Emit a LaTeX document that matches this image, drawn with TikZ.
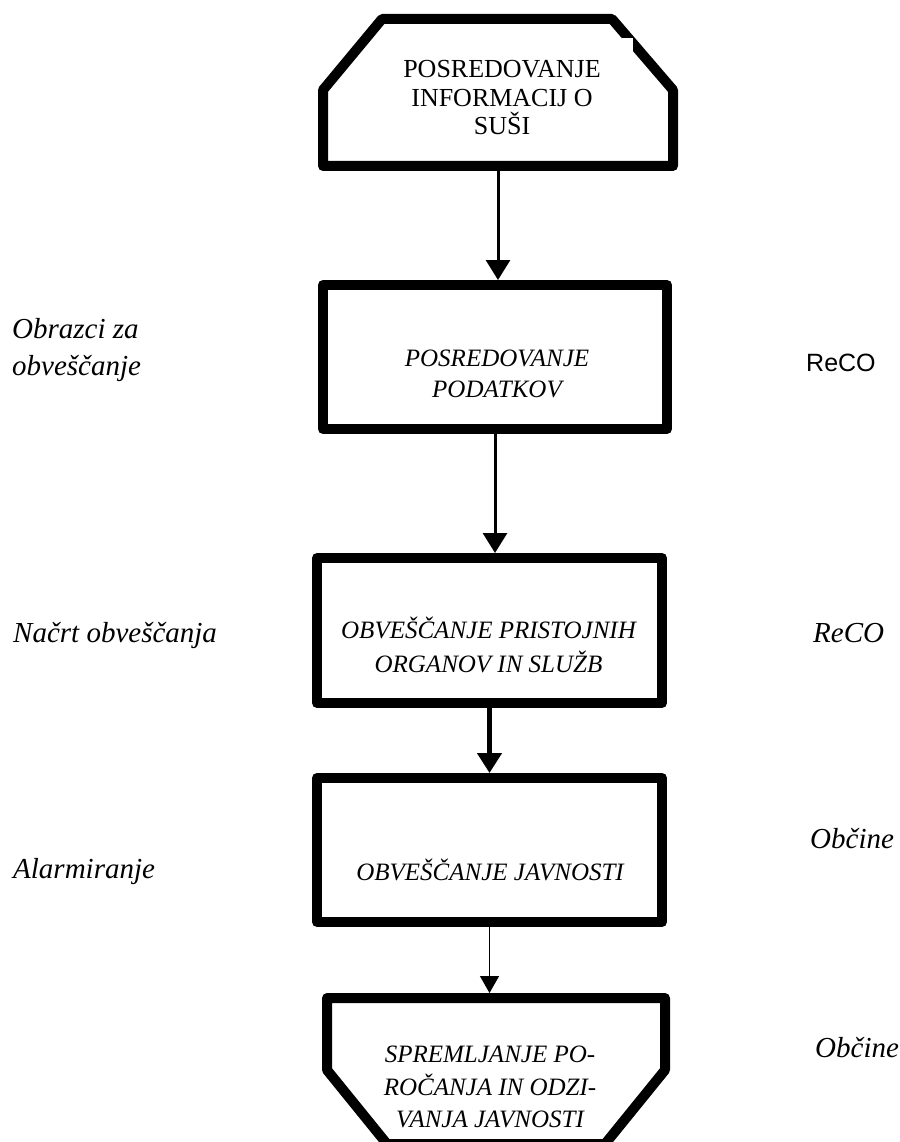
\documentclass[tikz,border=0pt]{standalone}
\usepackage{fontspec}
\setmainfont{Liberation Serif}
\setsansfont{Liberation Sans}
\usetikzlibrary{arrows.meta}
\begin{document}
\begin{tikzpicture}[x=1pt,y=-1pt,line join=round,line cap=round,
>={Triangle[width=24pt,length=20pt]},
frame/.style={draw,rectangle,line width=10pt,inner sep=0pt},
outline/.style={line width=10pt},
shapebox/.style={rectangle,inner sep=0pt,outer sep=0pt},
boxtxt/.style={align=center,inner sep=0pt,font=\fontsize{25}{31}\selectfont\itshape},
side/.style={inner sep=0pt,anchor=base west,font=\fontsize{29}{37}\selectfont\itshape}]
\useasboundingbox (0,0) rectangle (899,1142);
% frames
\node[shapebox,minimum width=350pt,minimum height=147pt] (info) at (498,92.5) {};
\draw[outline] ([yshift=-71pt]info.north west)--([xshift=59pt]info.north west)--([xshift=-61pt]info.north east)--([yshift=-71pt]info.north east)--(info.south east)--(info.south west)--cycle;
\fill[white] (622,38) rectangle (633,55);
\node[frame,minimum width=344pt,minimum height=144pt] (podatki) at (495,357) {};
\node[frame,minimum width=345pt,minimum height=145pt] (organi) at (489.5,630.5) {};
\node[frame,minimum width=345pt,minimum height=144pt] (javnost) at (489.5,850) {};
\node[shapebox,minimum width=338pt,minimum height=146pt] (spremljanje) at (496,1071) {};
\draw[outline] (spremljanje.north west)--(spremljanje.north east)--([yshift=74pt]spremljanje.south east)--([xshift=-60pt]spremljanje.south east)--([xshift=60pt]spremljanje.south west)--([yshift=74pt]spremljanje.south west)--cycle;
% texts in frames
\node[boxtxt,font=\fontsize{26}{28.5}\selectfont] (infotxt) at (502,98) {POSREDOVANJE\\INFORMACIJ O\\SUŠI};
\node[boxtxt] (podtxt) at (497,374.3) {POSREDOVANJE\\PODATKOV};
\node[boxtxt,font=\fontsize{25}{34}\selectfont\itshape] (orgtxt) at (488.5,644.5) {OBVEŠČANJE PRISTOJNIH\\ORGANOV IN SLUŽB};
\node[boxtxt,anchor=base] (javtxt) at (490,880) {OBVEŠČANJE JAVNOSTI};
\node[boxtxt,font=\fontsize{25}{32.5}\selectfont\itshape] (sprtxt) at (490,1087) {SPREMLJANJE PO-\\ROČANJA IN ODZI-\\VANJA JAVNOSTI};
% arrows
\draw[->,line width=3pt] (info.south)--(info.south|-podatki.north);
\draw[->,line width=3pt] (podatki.south)--(podatki.south|-organi.north);
\draw[->,line width=4.5pt] (organi.south)--(organi.south|-javnost.north);
\draw[-{Triangle[width=19pt,length=17pt]},line width=1.3pt,shorten >=5pt] (javnost.south)--(javnost.south|-spremljanje.north);
% side labels
\node[side,anchor=west,align=left] (obrazci) at (12,350) {Obrazci za\\obveščanje};
\node[side] (nacrt) at (13,642) {Načrt obveščanja};
\node[side] (alarm) at (13,878) {Alarmiranje};
\node[side,font=\fontsize{25}{28}\selectfont\sffamily] (reco) at (806,371) {ReCO};
\node[side] (recoit) at (813,642) {ReCO};
\node[side] (obcine) at (810,848) {Občine};
\node[side] (obcinebot) at (815,1057) {Občine};
\end{tikzpicture}
\end{document}
